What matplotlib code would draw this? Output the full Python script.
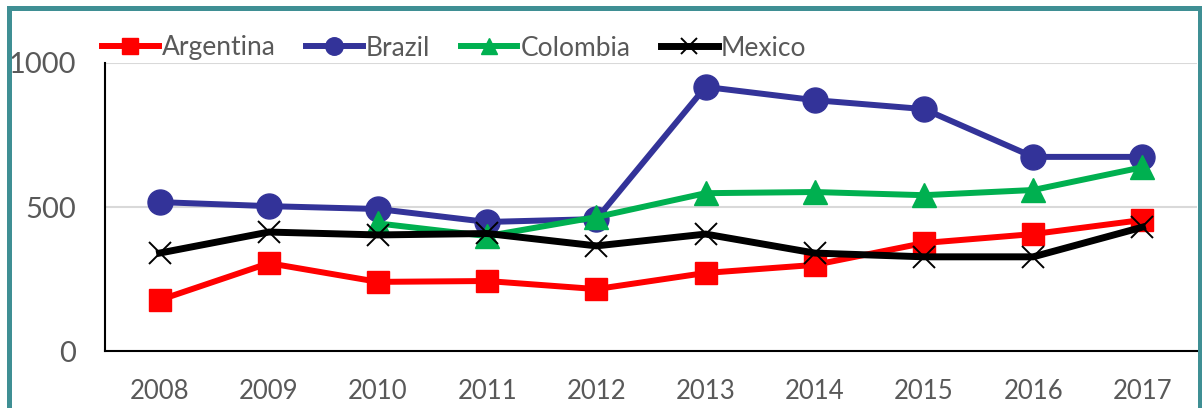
import matplotlib
matplotlib.use("Agg")
import matplotlib.pyplot as plt
from matplotlib.patches import Rectangle

years = ["2008", "2009", "2010", "2011", "2012", "2013", "2014", "2015", "2016", "2017"]
argentina = [177, 305, 240, 243, 215, 271, 299, 375, 406, 455]
brazil = [517, 503, 493, 448, 458, 917, 871, 840, 674, 674]
colombia = [None, None, 443, 399, 465, 548, 552, 541, 559, 638]
mexico = [340, 413, 403, 408, 365, 406, 340, 327, 327, 430]

plt.rcParams['font.family'] = ['Lato', 'DejaVu Sans']

fig = plt.figure(figsize=(12.02, 4.08), dpi=100)
ax = fig.add_axes([105/1202, 1 - 351/408, (1197 - 105)/1202, (351 - 63)/408])

x = list(range(len(years)))
col_x = [i for i, v in zip(x, colombia) if v is not None]
col_y = [v for v in colombia if v is not None]

ax.plot(x, argentina, color='#FF0000', lw=4.3, marker='s', ms=15.5, label='Argentina', zorder=3)
ax.plot(x, brazil, color='#333399', lw=4.3, marker='o', ms=18, label='Brazil', zorder=3)
ax.plot(col_x, col_y, color='#00B050', lw=4.3, marker='^', ms=17, label='Colombia', zorder=3)
ax.plot(x, mexico, color='#000000', lw=5, marker='x', ms=16, mew=1.4, label='Mexico', zorder=3)

ax.set_xlim(-0.5, len(years) - 0.5)
ax.set_ylim(0, 1000)
ax.set_yticks([0, 500, 1000])
ax.set_xticks(x)
ax.set_xticklabels(years)
ax.grid(axis='y', color='#D9D9D9', lw=1.5, zorder=0)
ax.set_axisbelow(True)
for s in ['top', 'right']:
    ax.spines[s].set_visible(False)
for s in ['left', 'bottom']:
    ax.spines[s].set_color('black')
    ax.spines[s].set_linewidth(1.5)
ax.tick_params(axis='both', length=0, colors='#595959')
ax.tick_params(axis='y', pad=21, labelsize=21)
ax.tick_params(axis='x', pad=20, labelsize=18.5)

leg = fig.legend(loc='center left', bbox_to_anchor=(102/1202, 1 - 48/408), ncol=4,
                 frameon=False, fontsize=19, handlelength=2.15, handletextpad=0.12,
                 columnspacing=1.15, markerscale=0.7, borderaxespad=0, borderpad=0)
for t in leg.get_texts():
    t.set_color('#595959')

fig.patches.append(Rectangle((9/1202, -0.1), (1199.5 - 9)/1202, 1.1 - 8.5/408,
                             transform=fig.transFigure, fill=False,
                             edgecolor='#3F8F94', lw=3.6, zorder=10))

fig.savefig('out.png', dpi=100)
